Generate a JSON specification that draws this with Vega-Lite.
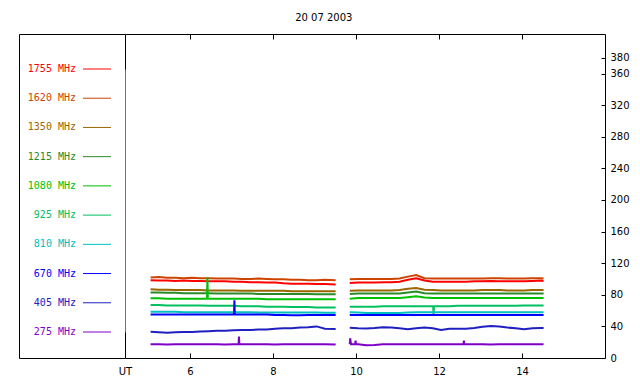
{
  "$schema": "https://vega.github.io/schema/vega-lite/v6.json",
  "background": "white",
  "padding": {"left": 18, "top": 12, "right": 5, "bottom": 5},
  "bounds": "flush",
  "spacing": 0,
  "title": {"text": "20 07 2003", "font": "DejaVu Sans", "fontSize": 10, "fontWeight": "normal", "color": "black", "anchor": "middle", "offset": 11},
  "config": {
    "view": {"stroke": "black", "strokeWidth": 1},
    "axis": {"labelFont": "DejaVu Sans", "labelFontSize": 10, "labelColor": "black", "domainColor": "black", "tickColor": "black", "grid": false, "title": null}
  },
  "datasets": {
    "legend": [
      {"f": "1755 MHz"}, {"f": "1620 MHz"}, {"f": "1350 MHz"}, {"f": "1215 MHz"}, {"f": "1080 MHz"},
      {"f": "925 MHz"}, {"f": "810 MHz"}, {"f": "670 MHz"}, {"f": "405 MHz"}, {"f": "275 MHz"}
    ],
    "flux": [
      {"t": 5.05, "seg": 1, "1755 MHz": 98.5, "1620 MHz": 102, "1350 MHz": 87, "1215 MHz": 83, "1080 MHz": 75.5, "925 MHz": 67, "810 MHz": 58.5, "670 MHz": 55, "405 MHz": 33.2, "275 MHz": 17.5},
      {"t": 5.25, "seg": 1, "1755 MHz": 98, "1620 MHz": 102.5, "1350 MHz": 86.5, "1215 MHz": 83, "1080 MHz": 75.5, "925 MHz": 67, "810 MHz": 58.5, "670 MHz": 55, "405 MHz": 32.5, "275 MHz": 17.5},
      {"t": 5.45, "seg": 1, "1755 MHz": 98, "1620 MHz": 101.5, "1350 MHz": 86.5, "1215 MHz": 82.5, "1080 MHz": 75, "925 MHz": 66.5, "810 MHz": 58.5, "670 MHz": 55, "405 MHz": 31.8, "275 MHz": 17},
      {"t": 5.65, "seg": 1, "1755 MHz": 97.5, "1620 MHz": 101.5, "1350 MHz": 86, "1215 MHz": 82.5, "1080 MHz": 75, "925 MHz": 66.5, "810 MHz": 58.5, "670 MHz": 55, "405 MHz": 32.5, "275 MHz": 17.5},
      {"t": 5.85, "seg": 1, "1755 MHz": 98, "1620 MHz": 101, "1350 MHz": 86, "1215 MHz": 82, "1080 MHz": 75, "925 MHz": 66.5, "810 MHz": 58, "670 MHz": 55, "405 MHz": 33, "275 MHz": 17.5},
      {"t": 6.05, "seg": 1, "1755 MHz": 97.5, "1620 MHz": 101.5, "1350 MHz": 86, "1215 MHz": 82, "1080 MHz": 75, "925 MHz": 66.5, "810 MHz": 58, "670 MHz": 55, "405 MHz": 33, "275 MHz": 17.5},
      {"t": 6.25, "seg": 1, "1755 MHz": 97.5, "1620 MHz": 101, "1350 MHz": 86, "1215 MHz": 82, "1080 MHz": 75, "925 MHz": 66.5, "810 MHz": 58, "670 MHz": 55, "405 MHz": 33.5, "275 MHz": 17.5},
      {"t": 6.45, "seg": 1, "1755 MHz": 97, "1620 MHz": 101, "1350 MHz": 85.5, "1215 MHz": 82, "1080 MHz": 75, "925 MHz": 66, "810 MHz": 58, "670 MHz": 55, "405 MHz": 34, "275 MHz": 17.5},
      {"t": 6.65, "seg": 1, "1755 MHz": 97, "1620 MHz": 100.5, "1350 MHz": 85.5, "1215 MHz": 81.5, "1080 MHz": 75, "925 MHz": 66, "810 MHz": 58, "670 MHz": 55, "405 MHz": 34.5, "275 MHz": 17.5},
      {"t": 6.85, "seg": 1, "1755 MHz": 97, "1620 MHz": 100.5, "1350 MHz": 85.5, "1215 MHz": 81.5, "1080 MHz": 75, "925 MHz": 66, "810 MHz": 58, "670 MHz": 55, "405 MHz": 34.5, "275 MHz": 17},
      {"t": 7.05, "seg": 1, "1755 MHz": 96.5, "1620 MHz": 100.5, "1350 MHz": 85.5, "1215 MHz": 81.5, "1080 MHz": 75, "925 MHz": 66, "810 MHz": 58, "670 MHz": 55, "405 MHz": 35, "275 MHz": 17.5},
      {"t": 7.25, "seg": 1, "1755 MHz": 96.5, "1620 MHz": 100, "1350 MHz": 85, "1215 MHz": 81.5, "1080 MHz": 75, "925 MHz": 65.5, "810 MHz": 58, "670 MHz": 55, "405 MHz": 35.5, "275 MHz": 17.5},
      {"t": 7.45, "seg": 1, "1755 MHz": 96, "1620 MHz": 100, "1350 MHz": 85, "1215 MHz": 81.5, "1080 MHz": 75, "925 MHz": 65.5, "810 MHz": 58, "670 MHz": 55, "405 MHz": 35.5, "275 MHz": 17.5},
      {"t": 7.65, "seg": 1, "1755 MHz": 96, "1620 MHz": 100.5, "1350 MHz": 85, "1215 MHz": 81, "1080 MHz": 75, "925 MHz": 65.5, "810 MHz": 57.5, "670 MHz": 55, "405 MHz": 36, "275 MHz": 17.5},
      {"t": 7.85, "seg": 1, "1755 MHz": 95.5, "1620 MHz": 100, "1350 MHz": 85, "1215 MHz": 81, "1080 MHz": 74.5, "925 MHz": 65, "810 MHz": 57.5, "670 MHz": 55, "405 MHz": 36, "275 MHz": 17.5},
      {"t": 8.05, "seg": 1, "1755 MHz": 95.5, "1620 MHz": 99.5, "1350 MHz": 85, "1215 MHz": 81, "1080 MHz": 74.5, "925 MHz": 65, "810 MHz": 57.5, "670 MHz": 54.5, "405 MHz": 37, "275 MHz": 17},
      {"t": 8.25, "seg": 1, "1755 MHz": 94.5, "1620 MHz": 99.5, "1350 MHz": 85, "1215 MHz": 81, "1080 MHz": 74.5, "925 MHz": 65, "810 MHz": 57.5, "670 MHz": 54.5, "405 MHz": 37.5, "275 MHz": 17.5},
      {"t": 8.45, "seg": 1, "1755 MHz": 94, "1620 MHz": 99, "1350 MHz": 84.5, "1215 MHz": 81, "1080 MHz": 74.5, "925 MHz": 64.5, "810 MHz": 57.5, "670 MHz": 54, "405 MHz": 37.5, "275 MHz": 17.5},
      {"t": 8.65, "seg": 1, "1755 MHz": 94, "1620 MHz": 99, "1350 MHz": 84.5, "1215 MHz": 81, "1080 MHz": 74.5, "925 MHz": 64.5, "810 MHz": 57.5, "670 MHz": 54, "405 MHz": 38.5, "275 MHz": 17.5},
      {"t": 8.85, "seg": 1, "1755 MHz": 94, "1620 MHz": 98.5, "1350 MHz": 84.5, "1215 MHz": 81, "1080 MHz": 74.5, "925 MHz": 64.5, "810 MHz": 57.5, "670 MHz": 54.5, "405 MHz": 39, "275 MHz": 17.5},
      {"t": 9.05, "seg": 1, "1755 MHz": 93.5, "1620 MHz": 98.5, "1350 MHz": 84.5, "1215 MHz": 80.8, "1080 MHz": 74.5, "925 MHz": 64, "810 MHz": 57.5, "670 MHz": 54.5, "405 MHz": 40, "275 MHz": 17.5},
      {"t": 9.25, "seg": 1, "1755 MHz": 93.5, "1620 MHz": 99, "1350 MHz": 84.5, "1215 MHz": 80.8, "1080 MHz": 74.5, "925 MHz": 64, "810 MHz": 57.2, "670 MHz": 54.5, "405 MHz": 37, "275 MHz": 17.5},
      {"t": 9.51, "seg": 1, "1755 MHz": 93, "1620 MHz": 98.5, "1350 MHz": 84.5, "1215 MHz": 80.8, "1080 MHz": 74.5, "925 MHz": 64, "810 MHz": 57.2, "670 MHz": 54.5, "405 MHz": 36.7, "275 MHz": 17},
      {"t": 9.85, "seg": 2, "1755 MHz": 95, "1620 MHz": 99.5, "1350 MHz": 85, "1215 MHz": 81, "1080 MHz": 75, "925 MHz": 65, "810 MHz": 58, "670 MHz": 54.5, "405 MHz": 38.2, "275 MHz": 17.5},
      {"t": 10.05, "seg": 2, "1755 MHz": 95.5, "1620 MHz": 100, "1350 MHz": 85.5, "1215 MHz": 81.5, "1080 MHz": 76, "925 MHz": 65, "810 MHz": 57.5, "670 MHz": 54.5, "405 MHz": 37.5, "275 MHz": 17.5},
      {"t": 10.25, "seg": 2, "1755 MHz": 95.5, "1620 MHz": 100, "1350 MHz": 85.5, "1215 MHz": 81.5, "1080 MHz": 76, "925 MHz": 65, "810 MHz": 57, "670 MHz": 54.5, "405 MHz": 37.3, "275 MHz": 16},
      {"t": 10.45, "seg": 2, "1755 MHz": 95.5, "1620 MHz": 100, "1350 MHz": 85.5, "1215 MHz": 81.5, "1080 MHz": 76, "925 MHz": 65, "810 MHz": 57, "670 MHz": 54.5, "405 MHz": 38, "275 MHz": 16.5},
      {"t": 10.65, "seg": 2, "1755 MHz": 96, "1620 MHz": 100, "1350 MHz": 85.5, "1215 MHz": 81.5, "1080 MHz": 76, "925 MHz": 65.5, "810 MHz": 57, "670 MHz": 54.5, "405 MHz": 39, "275 MHz": 17.5},
      {"t": 10.85, "seg": 2, "1755 MHz": 96, "1620 MHz": 100, "1350 MHz": 85.5, "1215 MHz": 81.5, "1080 MHz": 76, "925 MHz": 65.5, "810 MHz": 57, "670 MHz": 54.5, "405 MHz": 38.5, "275 MHz": 17.5},
      {"t": 11.05, "seg": 2, "1755 MHz": 96.5, "1620 MHz": 100.5, "1350 MHz": 86, "1215 MHz": 81.5, "1080 MHz": 76, "925 MHz": 65.5, "810 MHz": 57, "670 MHz": 54.5, "405 MHz": 37.5, "275 MHz": 17.5},
      {"t": 11.25, "seg": 2, "1755 MHz": 99, "1620 MHz": 103, "1350 MHz": 87.5, "1215 MHz": 83, "1080 MHz": 77, "925 MHz": 65.5, "810 MHz": 57.5, "670 MHz": 54.5, "405 MHz": 36.5, "275 MHz": 17.5},
      {"t": 11.45, "seg": 2, "1755 MHz": 101, "1620 MHz": 105, "1350 MHz": 88.5, "1215 MHz": 84, "1080 MHz": 78, "925 MHz": 65.5, "810 MHz": 58, "670 MHz": 54.5, "405 MHz": 37.5, "275 MHz": 17.5},
      {"t": 11.65, "seg": 2, "1755 MHz": 98, "1620 MHz": 101, "1350 MHz": 86.5, "1215 MHz": 82, "1080 MHz": 76.5, "925 MHz": 65.5, "810 MHz": 58, "670 MHz": 54.5, "405 MHz": 38.5, "275 MHz": 17.5},
      {"t": 11.85, "seg": 2, "1755 MHz": 96.5, "1620 MHz": 100.5, "1350 MHz": 86, "1215 MHz": 81.5, "1080 MHz": 76, "925 MHz": 65.5, "810 MHz": 58, "670 MHz": 54.5, "405 MHz": 37.5, "275 MHz": 17.5},
      {"t": 12.05, "seg": 2, "1755 MHz": 96.5, "1620 MHz": 100.5, "1350 MHz": 85.5, "1215 MHz": 81.5, "1080 MHz": 76, "925 MHz": 65.5, "810 MHz": 58, "670 MHz": 54.5, "405 MHz": 35.5, "275 MHz": 17.5},
      {"t": 12.25, "seg": 2, "1755 MHz": 96.5, "1620 MHz": 100.5, "1350 MHz": 85.5, "1215 MHz": 81.5, "1080 MHz": 76, "925 MHz": 65.5, "810 MHz": 58, "670 MHz": 54.5, "405 MHz": 37, "275 MHz": 17.5},
      {"t": 12.45, "seg": 2, "1755 MHz": 96.5, "1620 MHz": 100.5, "1350 MHz": 85.5, "1215 MHz": 81.5, "1080 MHz": 76, "925 MHz": 66, "810 MHz": 58, "670 MHz": 54.5, "405 MHz": 37, "275 MHz": 17.5},
      {"t": 12.65, "seg": 2, "1755 MHz": 96.5, "1620 MHz": 100.5, "1350 MHz": 85.5, "1215 MHz": 81.5, "1080 MHz": 76, "925 MHz": 66, "810 MHz": 58, "670 MHz": 54.5, "405 MHz": 37, "275 MHz": 17.5},
      {"t": 12.85, "seg": 2, "1755 MHz": 97, "1620 MHz": 100.5, "1350 MHz": 85.5, "1215 MHz": 81.5, "1080 MHz": 76, "925 MHz": 66, "810 MHz": 58, "670 MHz": 54.5, "405 MHz": 38, "275 MHz": 17.5},
      {"t": 13.05, "seg": 2, "1755 MHz": 97, "1620 MHz": 100.5, "1350 MHz": 86, "1215 MHz": 81.5, "1080 MHz": 76, "925 MHz": 66, "810 MHz": 58, "670 MHz": 54.5, "405 MHz": 39.5, "275 MHz": 17.5},
      {"t": 13.25, "seg": 2, "1755 MHz": 97.5, "1620 MHz": 101, "1350 MHz": 86, "1215 MHz": 81.5, "1080 MHz": 76, "925 MHz": 66, "810 MHz": 58, "670 MHz": 54.5, "405 MHz": 40.5, "275 MHz": 17},
      {"t": 13.45, "seg": 2, "1755 MHz": 97, "1620 MHz": 101, "1350 MHz": 86, "1215 MHz": 81.5, "1080 MHz": 76, "925 MHz": 66, "810 MHz": 58, "670 MHz": 54.5, "405 MHz": 40, "275 MHz": 17.5},
      {"t": 13.65, "seg": 2, "1755 MHz": 97, "1620 MHz": 100.5, "1350 MHz": 85.5, "1215 MHz": 81.5, "1080 MHz": 76, "925 MHz": 66, "810 MHz": 58, "670 MHz": 54.5, "405 MHz": 38.5, "275 MHz": 17.5},
      {"t": 13.85, "seg": 2, "1755 MHz": 97, "1620 MHz": 100.5, "1350 MHz": 85.5, "1215 MHz": 81.5, "1080 MHz": 76, "925 MHz": 66, "810 MHz": 58, "670 MHz": 54.5, "405 MHz": 37.5, "275 MHz": 17.5},
      {"t": 14.05, "seg": 2, "1755 MHz": 97, "1620 MHz": 100.5, "1350 MHz": 85.5, "1215 MHz": 81.5, "1080 MHz": 76, "925 MHz": 66.5, "810 MHz": 58, "670 MHz": 54.5, "405 MHz": 36.5, "275 MHz": 17.5},
      {"t": 14.25, "seg": 2, "1755 MHz": 97.5, "1620 MHz": 101, "1350 MHz": 86, "1215 MHz": 81.5, "1080 MHz": 76, "925 MHz": 66.5, "810 MHz": 58, "670 MHz": 54.5, "405 MHz": 37.5, "275 MHz": 17.5},
      {"t": 14.45, "seg": 2, "1755 MHz": 98, "1620 MHz": 101, "1350 MHz": 86, "1215 MHz": 81.5, "1080 MHz": 76, "925 MHz": 66.5, "810 MHz": 58, "670 MHz": 54.5, "405 MHz": 38, "275 MHz": 17.5},
      {"t": 14.52, "seg": 2, "1755 MHz": 97.5, "1620 MHz": 100.5, "1350 MHz": 86, "1215 MHz": 81.5, "1080 MHz": 76, "925 MHz": 66.5, "810 MHz": 58, "670 MHz": 54.5, "405 MHz": 38, "275 MHz": 17.5},
      {"t": 6.41, "seg": 1, "1080 MHz": 75},
      {"t": 6.42, "seg": 1, "1080 MHz": 102},
      {"t": 6.43, "seg": 1, "1080 MHz": 75},
      {"t": 7.06, "seg": 1, "670 MHz": 55},
      {"t": 7.07, "seg": 1, "670 MHz": 73},
      {"t": 7.08, "seg": 1, "670 MHz": 55},
      {"t": 7.17, "seg": 1, "275 MHz": 17.5},
      {"t": 7.18, "seg": 1, "275 MHz": 27},
      {"t": 7.19, "seg": 1, "275 MHz": 17.5},
      {"t": 9.86, "seg": 2, "275 MHz": 25},
      {"t": 9.88, "seg": 2, "275 MHz": 17.5},
      {"t": 9.98, "seg": 2, "275 MHz": 17.5},
      {"t": 9.99, "seg": 2, "275 MHz": 22},
      {"t": 10.0, "seg": 2, "275 MHz": 17.5},
      {"t": 12.59, "seg": 2, "275 MHz": 17.5},
      {"t": 12.6, "seg": 2, "275 MHz": 22},
      {"t": 12.61, "seg": 2, "275 MHz": 17.5},
      {"t": 11.86, "seg": 2, "925 MHz": 65.5},
      {"t": 11.87, "seg": 2, "925 MHz": 55},
      {"t": 11.88, "seg": 2, "925 MHz": 65.5}
    ]
  },
  "hconcat": [
    {
      "width": 106,
      "height": 324,
      "data": {"name": "legend"},
      "encoding": {
        "y": {"field": "f", "type": "nominal", "sort": null,
              "scale": {"type": "point", "padding": 0, "domain": ["1755 MHz", "1620 MHz", "1350 MHz", "1215 MHz", "1080 MHz", "925 MHz", "810 MHz", "670 MHz", "405 MHz", "275 MHz"], "range": [35, 298]},
              "axis": {"orient": "right", "labels": false, "ticks": false, "domain": true, "domainColor": "#707070", "title": null}},
        "color": {"field": "f", "type": "nominal", "legend": null,
                  "scale": {"domain": ["1755 MHz", "1620 MHz", "1350 MHz", "1215 MHz", "1080 MHz", "925 MHz", "810 MHz", "670 MHz", "405 MHz", "275 MHz"],
                            "range": ["#ff0000", "#cc4400", "#996600", "#2a8a2a", "#00c000", "#00c060", "#00c0c0", "#0000ff", "#2020c0", "#7f00c8"]}}
      },
      "layer": [
        {
          "mark": {"type": "text", "align": "right", "baseline": "middle", "font": "DejaVu Sans Mono", "fontSize": 10},
          "encoding": {
            "x": {"datum": 57, "type": "quantitative", "scale": {"domain": [0, 106], "nice": false, "zero": false}, "axis": null},
            "text": {"field": "f"}
          }
        },
        {
          "mark": {"type": "rule", "strokeWidth": 1},
          "encoding": {
            "x": {"datum": 64, "type": "quantitative", "scale": {"domain": [0, 106], "nice": false, "zero": false}, "axis": null},
            "x2": {"datum": 92}
          }
        }
      ]
    },
    {
      "width": 480,
      "height": 324,
      "view": {"stroke": null},
      "layer": [
        {
          "data": {"name": "flux"},
          "transform": [
            {"fold": ["1755 MHz", "1620 MHz", "1350 MHz", "1215 MHz", "1080 MHz", "925 MHz", "810 MHz", "670 MHz", "405 MHz", "275 MHz"], "as": ["freq", "flux"]},
            {"filter": "isValid(datum.flux)"}
          ],
          "mark": {"type": "line", "strokeWidth": 2},
          "encoding": {
            "x": {"field": "t", "type": "quantitative",
                  "scale": {"domain": [4.434, 16.0], "nice": false, "zero": false},
                  "axis": {"orient": "bottom", "values": [4.434, 6, 8, 10, 12, 14], "labelExpr": "datum.value < 5 ? 'UT' : format(datum.value, 'd')",
                           "tickSize": -5, "labelPadding": 13, "labelFlush": false, "labelOverlap": false, "domainColor": "black",
                           "tickColor": {"condition": {"test": "datum.value < 5", "value": "transparent"}, "value": "black"}}},
            "y": {"field": "flux", "type": "quantitative",
                  "scale": {"domain": [0, 410], "nice": false, "zero": false},
                  "axis": {"orient": "right", "values": [0, 40, 80, 120, 160, 200, 240, 280, 320, 360, 380], "tickSize": -4, "labelPadding": 9, "labelOverlap": false, "labelFlush": false, "domainColor": "black"}},
            "color": {"field": "freq", "type": "nominal", "legend": null,
                      "scale": {"domain": ["1755 MHz", "1620 MHz", "1350 MHz", "1215 MHz", "1080 MHz", "925 MHz", "810 MHz", "670 MHz", "405 MHz", "275 MHz"],
                                "range": ["#ff0000", "#cc4400", "#996600", "#2a8a2a", "#00c000", "#00c060", "#00c0c0", "#0000ff", "#2020c0", "#7f00c8"]}},
            "detail": {"field": "seg", "type": "nominal"}
          }
        },
        {
          "data": {"values": [{"t": 6}]},
          "mark": {"type": "point", "opacity": 0},
          "encoding": {
            "x": {"field": "t", "type": "quantitative",
                  "axis": {"orient": "top", "values": [6, 8, 10, 12, 14], "labels": false, "tickSize": -5, "domainColor": "black"}}
          }
        }
      ]
    }
  ]
}
